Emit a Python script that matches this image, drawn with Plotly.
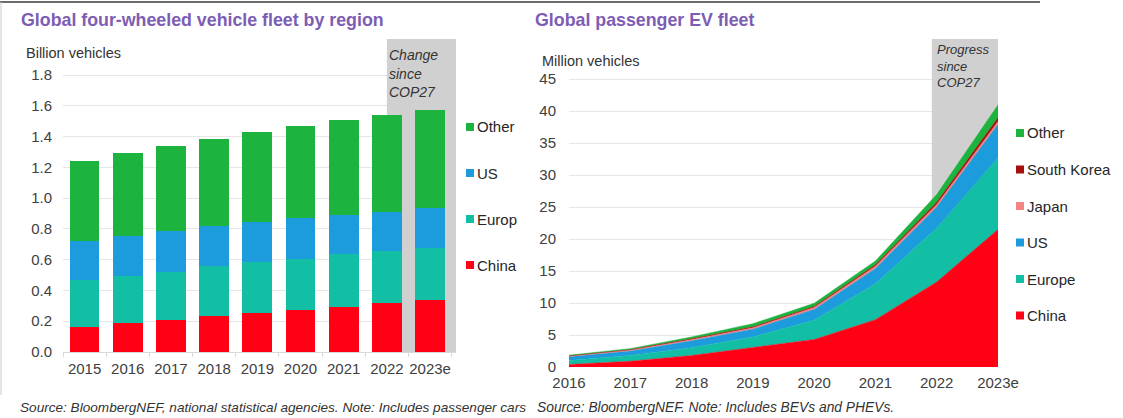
import plotly.graph_objects as go

W, H = 1123, 418

# ---------------- data ----------------
fleet_years = ["2015", "2016", "2017", "2018", "2019", "2020", "2021", "2022", "2023e"]
fleet_china = [0.162, 0.188, 0.210, 0.231, 0.255, 0.275, 0.292, 0.320, 0.335]
fleet_europe = [0.303, 0.309, 0.313, 0.325, 0.327, 0.330, 0.342, 0.335, 0.340]
fleet_us = [0.255, 0.255, 0.262, 0.261, 0.261, 0.264, 0.256, 0.257, 0.261]
fleet_other = [0.519, 0.539, 0.551, 0.567, 0.588, 0.597, 0.615, 0.628, 0.638]
fleet_ticks = [0.0, 0.2, 0.4, 0.6, 0.8, 1.0, 1.2, 1.4, 1.6, 1.8]

ev_years = ["2016", "2017", "2018", "2019", "2020", "2021", "2022", "2023e"]
ev_china = [0.4, 0.9, 1.8, 3.0, 4.3, 7.4, 13.3, 21.5]
ev_europe = [0.6, 0.9, 1.2, 1.7, 3.0, 5.6, 8.4, 11.2]
ev_us = [0.6, 0.7, 1.1, 1.2, 1.7, 2.4, 3.3, 5.2]
ev_japan = [0.1, 0.15, 0.2, 0.25, 0.3, 0.35, 0.4, 0.45]
ev_korea = [0.05, 0.07, 0.1, 0.12, 0.15, 0.22, 0.35, 0.6]
ev_other = [0.1, 0.15, 0.3, 0.5, 0.5, 0.6, 1.2, 2.0]
ev_ticks = [0, 5, 10, 15, 20, 25, 30, 35, 40, 45]

# ---------------- style ----------------
FONT = "Liberation Sans"
C_CHINA = "#FF0015"
C_EUROPE = "#12BFA5"
C_US = "#1C9BDD"
C_OTHER = "#1DB33F"
C_JAPAN = "#F58585"
C_KOREA = "#A80D0D"
C_BAND = "#D0D0D0"
C_TITLE = "#7D5DB4"
C_TEXT = "#404040"
C_GRID = "#E6E6E6"


def px(x):
    return x / W


def py(y):
    return 1 - y / H


fig = go.Figure()

# left: stacked bars
for name, vals, col in [("China", fleet_china, C_CHINA), ("Europe", fleet_europe, C_EUROPE),
                        ("US", fleet_us, C_US), ("Other", fleet_other, C_OTHER)]:
    fig.add_trace(go.Bar(x=fleet_years, y=vals, name=name, marker=dict(color=col, line=dict(width=0)),
                         xaxis="x", yaxis="y", showlegend=False))

# right: stacked areas
for name, vals, col in [("China", ev_china, C_CHINA), ("Europe", ev_europe, C_EUROPE),
                        ("US", ev_us, C_US), ("Japan", ev_japan, C_JAPAN),
                        ("South Korea", ev_korea, C_KOREA), ("Other", ev_other, C_OTHER)]:
    fig.add_trace(go.Scatter(x=ev_years, y=vals, name=name, stackgroup="ev", mode="lines",
                             line=dict(width=0.5, color=col), fillcolor=col,
                             xaxis="x2", yaxis="y2", showlegend=False))

axis_font = dict(family=FONT, size=15, color=C_TEXT)

fig.update_layout(
    width=W, height=H, margin=dict(l=0, r=0, t=0, b=0, autoexpand=False),
    paper_bgcolor="white", plot_bgcolor="white",
    barmode="stack", bargap=0.31,
    font=dict(family=FONT, color=C_TEXT),
    xaxis=dict(domain=[px(63), px(456)], range=[-0.5, 8.6], type="category",
               showgrid=False, showline=True, linecolor="#D9D9D9", linewidth=1,
               ticks="outside", tickson="boundaries", ticklen=4, tickcolor="#D9D9D9",
               tickfont=axis_font, tickangle=0, ticklabelstandoff=3, automargin=False,
               fixedrange=True),
    yaxis=dict(domain=[py(352), py(39)], range=[0, 2.034], tickvals=fleet_ticks,
               tickformat=".1f", showgrid=True, gridcolor=C_GRID, gridwidth=1,
               zeroline=False, showline=False, tickfont=axis_font, ticklabelstandoff=10,
               automargin=False, fixedrange=True),
    xaxis2=dict(domain=[px(569), px(998)], range=[0, 7], type="category",
                showgrid=False, showline=False, ticks="", tickfont=axis_font, tickangle=0,
                ticklabelstandoff=5, anchor="y2", automargin=False, fixedrange=True),
    yaxis2=dict(domain=[py(367), py(39)], range=[0, 51.25], tickvals=ev_ticks,
                showgrid=True, gridcolor=C_GRID, gridwidth=1, zeroline=False,
                showline=False, tickfont=axis_font, ticklabelstandoff=12,
                anchor="x2", automargin=False, fixedrange=True),
)

shapes = []
# shaded bands
shapes.append(dict(type="rect", xref="x", yref="y", x0=7.0, x1=8.6, y0=0, y1=2.034,
                   fillcolor=C_BAND, line=dict(width=0), layer="between"))
shapes.append(dict(type="rect", xref="x2", yref="y2", x0=5.92, x1=7.0, y0=0, y1=51.25,
                   fillcolor=C_BAND, line=dict(width=0), layer="between"))
# frame artifacts
shapes.append(dict(type="line", xref="paper", yref="paper", x0=0, x1=px(1040), y0=py(2), y1=py(2),
                   line=dict(color="#3A3A3A", width=1.5)))
shapes.append(dict(type="line", xref="paper", yref="paper", x0=px(1), x1=px(1), y0=py(2), y1=py(395),
                   line=dict(color="#C8C8C8", width=1)))

annotations = []


def text(x, y, s, size=15, color=C_TEXT, bold=False, italic=False, anchor="left"):
    if bold:
        s = "<b>" + s + "</b>"
    if italic:
        s = "<i>" + s + "</i>"
    annotations.append(dict(xref="paper", yref="paper", x=px(x), y=py(y), text=s, showarrow=False,
                            xanchor=anchor, yanchor="middle",
                            font=dict(family=FONT, size=size, color=color)))


def legend_item(x, y, label, color, size=15):
    shapes.append(dict(type="rect", xref="paper", yref="paper", x0=px(x), x1=px(x + 8),
                       y0=py(y + 4), y1=py(y - 4), fillcolor=color, line=dict(width=0)))
    text(x + 9, y, label, size=size, color="#262626")


# titles
text(19, 20, "Global four-wheeled vehicle fleet by region", size=17.8, color=C_TITLE, bold=True)
text(533, 20, "Global passenger EV fleet", size=17.8, color=C_TITLE, bold=True)
# axis units
text(24, 53, "Billion vehicles", size=14.5, color="#333333")
text(540, 61, "Million vehicles", size=14.5, color="#333333")
# band captions
for i, s in enumerate(["Change", "since", "COP27"]):
    text(387, 55 + i * 18.5, s, size=14, color="#333333", italic=True)
for i, s in enumerate(["Progress", "since", "COP27"]):
    text(935, 50 + i * 16.5, s, size=13, color="#333333", italic=True)
# legends
for i, (lab, col) in enumerate([("Other", C_OTHER), ("US", C_US), ("Europ", C_EUROPE), ("China", C_CHINA)]):
    legend_item(466, 127 + i * 46, lab, col)
for i, (lab, col) in enumerate([("Other", C_OTHER), ("South Korea", C_KOREA), ("Japan", C_JAPAN),
                                ("US", C_US), ("Europe", C_EUROPE), ("China", C_CHINA)]):
    legend_item(1016, 133 + i * 36.5, lab, col)
# sources
text(18, 407, "Source: BloombergNEF, national statistical agencies. Note: Includes passenger cars",
     size=13.6, color="#333333", italic=True)
text(535, 407, "Source: BloombergNEF. Note: Includes BEVs and PHEVs.", size=13.8, color="#333333", italic=True)

fig.update_layout(shapes=shapes, annotations=annotations)
fig.write_html("out.html", config={"displayModeBar": False},
               post_script="document.body.style.margin='0';document.body.style.overflow='hidden';")
